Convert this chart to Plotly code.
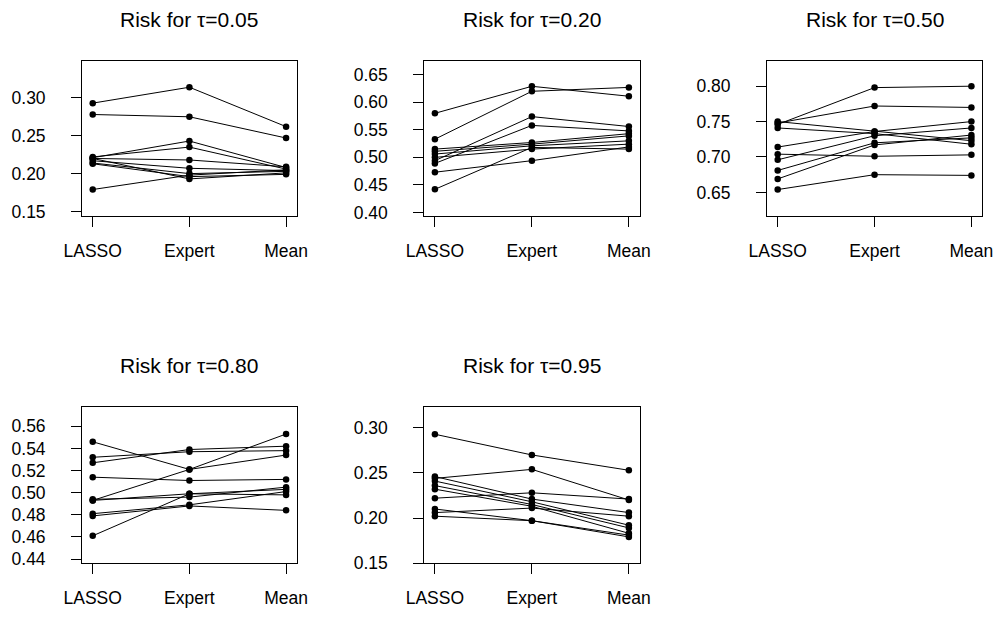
import plotly.graph_objects as go

methods = ["LASSO", "Expert", "Mean"]
taus = ["0.05", "0.20", "0.50", "0.80", "0.95"]

# Risk per data set (one entry per set) for each method and quantile level
lasso_005 = [0.293, 0.278, 0.221, 0.222, 0.220, 0.217, 0.214, 0.220, 0.213, 0.179]
expert_005 = [0.314, 0.275, 0.243, 0.235, 0.218, 0.207, 0.200, 0.193, 0.196, 0.198]
mean_005 = [0.262, 0.247, 0.208, 0.206, 0.209, 0.204, 0.203, 0.201, 0.199, 0.205]

lasso_020 = [0.580, 0.533, 0.494, 0.489, 0.515, 0.511, 0.506, 0.500, 0.473, 0.442]
expert_020 = [0.629, 0.620, 0.574, 0.558, 0.527, 0.524, 0.521, 0.515, 0.494, 0.518]
mean_020 = [0.611, 0.627, 0.556, 0.548, 0.543, 0.539, 0.530, 0.524, 0.519, 0.515]

lasso_050 = [0.746, 0.748, 0.750, 0.741, 0.714, 0.704, 0.696, 0.681, 0.669, 0.654]
expert_050 = [0.798, 0.772, 0.736, 0.733, 0.736, 0.701, 0.730, 0.720, 0.717, 0.675]
mean_050 = [0.800, 0.770, 0.723, 0.718, 0.750, 0.703, 0.741, 0.727, 0.731, 0.674]

lasso_080 = [0.546, 0.532, 0.527, 0.514, 0.493, 0.494, 0.493, 0.481, 0.479, 0.461]
expert_080 = [0.521, 0.537, 0.539, 0.511, 0.521, 0.496, 0.499, 0.489, 0.488, 0.499]
mean_080 = [0.534, 0.538, 0.542, 0.512, 0.553, 0.505, 0.503, 0.501, 0.484, 0.498]

lasso_095 = [0.293, 0.244, 0.246, 0.241, 0.236, 0.232, 0.222, 0.206, 0.210, 0.202]
expert_095 = [0.270, 0.254, 0.221, 0.218, 0.215, 0.213, 0.228, 0.211, 0.197, 0.197]
mean_095 = [0.253, 0.220, 0.206, 0.192, 0.189, 0.183, 0.221, 0.202, 0.181, 0.179]

panels = [
    (lasso_005, expert_005, mean_005),
    (lasso_020, expert_020, mean_020),
    (lasso_050, expert_050, mean_050),
    (lasso_080, expert_080, mean_080),
    (lasso_095, expert_095, mean_095),
]

y_ticks = [
    [0.15, 0.20, 0.25, 0.30],
    [0.40, 0.45, 0.50, 0.55, 0.60, 0.65],
    [0.65, 0.70, 0.75, 0.80],
    [0.44, 0.46, 0.48, 0.50, 0.52, 0.54, 0.56],
    [0.15, 0.20, 0.25, 0.30],
]
y_ranges = [
    [0.1444, 0.349],
    [0.394, 0.6755],
    [0.617, 0.836],
    [0.4364, 0.5778],
    [0.15, 0.3237],
]

W, H = 1005, 617
# plot boxes in pixels: (left, right, top, bottom)
boxes = [
    (66, 287, 61.7, 219.3),
    (418.3, 640, 61.7, 219.3),
    (771.3, 992.7, 61.7, 219.3),
    (66, 287, 413.3, 572.3),
    (418.3, 640, 413.3, 572.3),
]

FONT = "Liberation Sans, Arial, Helvetica, sans-serif"
fig = go.Figure()

for i, (lasso, expert, mean) in enumerate(panels):
    n = i + 1
    xa = "x" if n == 1 else f"x{n}"
    ya = "y" if n == 1 else f"y{n}"
    for a, b, c in zip(lasso, expert, mean):
        fig.add_trace(go.Scatter(
            x=[1, 2, 3], y=[a, b, c], xaxis=xa, yaxis=ya,
            mode="lines+markers",
            line=dict(color="black", width=1),
            marker=dict(color="black", size=6.5),
            showlegend=False, hoverinfo="skip",
        ))
    l, r, t, b = boxes[i]
    common = dict(showline=True, mirror=True, linecolor="black", linewidth=1,
                  showgrid=False, zeroline=False, ticks="outside", ticklen=10,
                  tickwidth=1, tickcolor="black",
                  tickfont=dict(family=FONT, size=17.5, color="black"))
    fig.layout[f"xaxis{'' if n == 1 else n}"] = dict(
        domain=[l / W, r / W], anchor=ya, range=[0.89, 3.11],
        tickvals=[1, 2, 3], ticktext=methods, ticklabelstandoff=9, **common)
    fig.layout[f"yaxis{'' if n == 1 else n}"] = dict(
        domain=[1 - b / H, 1 - t / H], anchor=xa, range=y_ranges[i],
        tickvals=y_ticks[i], ticktext=[f"{v:.2f}" for v in y_ticks[i]],
        ticklabelstandoff=22, **common)
    title_y = 19.7 if i < 3 else 372
    fig.add_annotation(
        x=(l + r) / 2 / W, y=1 - title_y / H, xref="paper", yref="paper",
        text=f"Risk for \u03c4={taus[i]}", showarrow=False,
        xanchor="center", yanchor="middle",
        font=dict(family=FONT, size=21, color="black"))

fig.update_layout(
    width=W, height=H, margin=dict(l=0, r=0, t=0, b=0),
    paper_bgcolor="white", plot_bgcolor="white",
)

fig.write_html("out.html")
